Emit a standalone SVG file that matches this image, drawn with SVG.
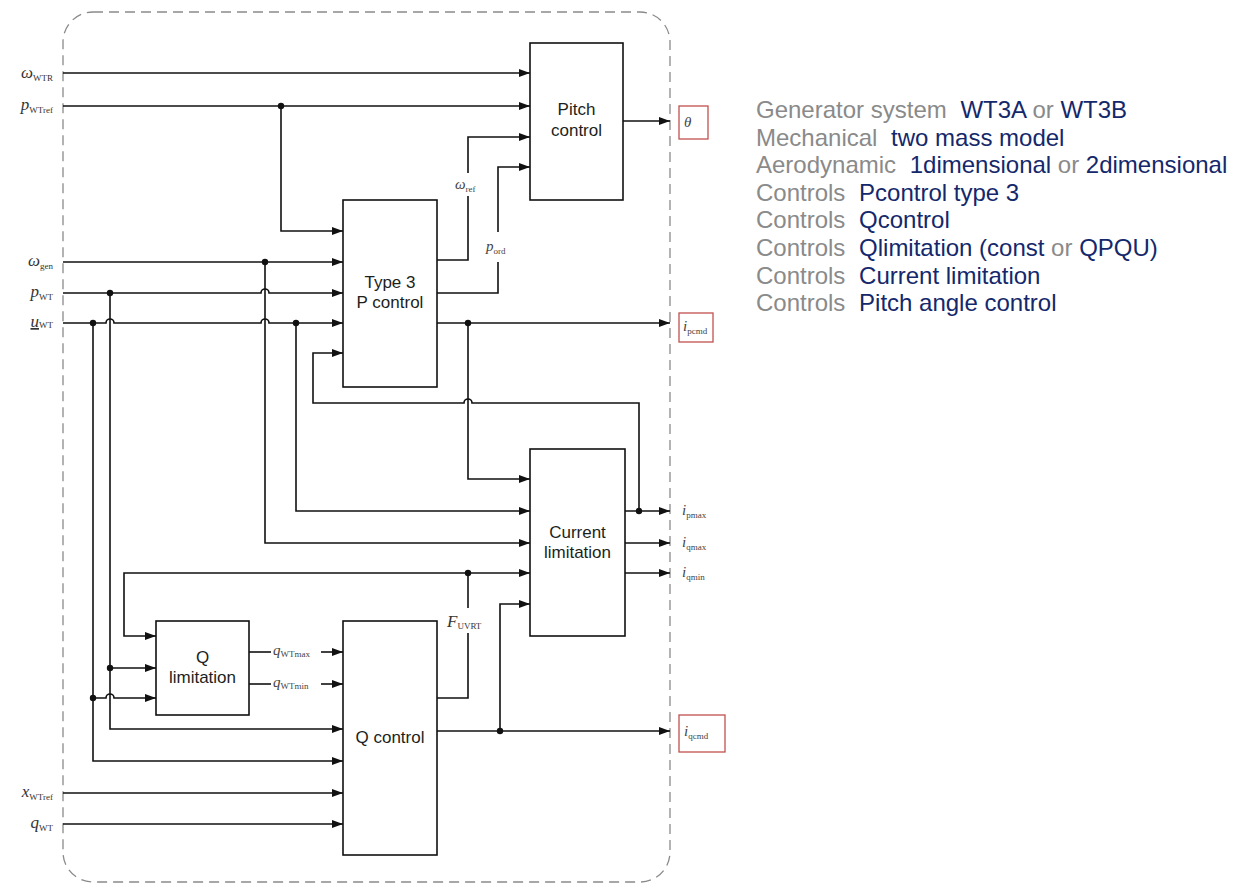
<svg xmlns="http://www.w3.org/2000/svg" width="1239" height="886" viewBox="0 0 1239 886">
<style>
.box{fill:#fff;stroke:#111;stroke-width:1.6}
.bt{font-family:"Liberation Sans",Arial,sans-serif;font-size:17px;fill:#1c1f1c;text-anchor:middle}
.ln{fill:none;stroke:#111;stroke-width:1.6}
.ar{marker-end:url(#arr)}
.dot{fill:#111}
.var{font-family:"Liberation Serif","Times New Roman",serif;font-size:17px;font-style:italic;fill:#333}
.sub{font-size:9px;font-style:normal}
.lbl{font-family:"Liberation Serif","Times New Roman",serif;font-size:15px;font-style:italic;fill:#444}
.out{fill:none;stroke:#c0504d;stroke-width:1.3}
.lg{font-family:"Liberation Sans",Arial,sans-serif;font-size:24px;fill:#8a8a8a}
.nv{fill:#14286b}
</style>
<defs>
<marker id="arr" markerUnits="userSpaceOnUse" markerWidth="12" markerHeight="8" refX="11" refY="4" orient="auto">
<path d="M0,0 L11,4 L0,8 z" fill="#111"/>
</marker>
</defs>
<rect width="1239" height="886" fill="#fff"/>
<g id="boundary">
<path d="M93,12 H640 A30,30 0 0 1 670,42 V852 A30,30 0 0 1 640,882 H93 A30,30 0 0 1 63,852 V42 A30,30 0 0 1 93,12 Z" fill="none" stroke="#8a8a8a" stroke-width="1.3" stroke-dasharray="10,6"/>
</g>
<g id="connectors">
<path class="ln ar" d="M63,73 H530"/>
<path class="ln ar" d="M63,106 H530"/>
<path class="ln ar" d="M281,106 V231 H343"/>
<path class="ln" d="M437,260 H468 V196"/>
<path class="ln ar" d="M468,173 V137 H530"/>
<path class="ln" d="M437,293 H498 V262"/>
<path class="ln ar" d="M498,232 V167 H530"/>
<path class="ln ar" d="M623,121 H670"/>
<path class="ln ar" d="M63,262 H343"/>
<path class="ln ar" d="M265,262 V543 H530"/>
<path class="ln ar" d="M63,293 H261 A4,4 0 0 1 269,293 H343"/>
<path class="ln ar" d="M110,293 V729 H343"/>
<path class="ln ar" d="M63,323 H106 A4,4 0 0 1 114,323 H261 A4,4 0 0 1 269,323 H343"/>
<path class="ln ar" d="M93,323 V761 H343"/>
<path class="ln ar" d="M93,698 H106 A4,4 0 0 1 114,698 H156"/>
<path class="ln ar" d="M296,323 V511 H530"/>
<path class="ln ar" d="M110,668 H156"/>
<path class="ln ar" d="M437,323 H670"/>
<path class="ln ar" d="M468,323 V479 H530"/>
<path class="ln ar" d="M639,511 V403 H472 A4,4 0 0 0 464,403 H313 V353 H343"/>
<path class="ln ar" d="M625,511 H670"/>
<path class="ln ar" d="M625,543 H670"/>
<path class="ln ar" d="M625,573 H670"/>
<path class="ln" d="M437,698 H468 V633"/>
<path class="ln" d="M468,608 V573"/>
<path class="ln ar" d="M468,573 H124 V636 H156"/>
<path class="ln ar" d="M468,573 H530"/>
<path class="ln" d="M249,652 H271"/>
<path class="ln ar" d="M321,652 H343"/>
<path class="ln" d="M249,684 H271"/>
<path class="ln ar" d="M321,684 H343"/>
<path class="ln ar" d="M437,731 H670"/>
<path class="ln ar" d="M500,731 V604 H530"/>
<path class="ln ar" d="M63,793 H343"/>
<path class="ln ar" d="M63,824 H343"/>
<circle class="dot" cx="281" cy="106" r="3.2"/>
<circle class="dot" cx="265" cy="262" r="3.2"/>
<circle class="dot" cx="110" cy="293" r="3.2"/>
<circle class="dot" cx="93" cy="323" r="3.2"/>
<circle class="dot" cx="296" cy="323" r="3.2"/>
<circle class="dot" cx="468" cy="323" r="3.2"/>
<circle class="dot" cx="639" cy="511" r="3.2"/>
<circle class="dot" cx="468" cy="573" r="3.2"/>
<circle class="dot" cx="110" cy="668" r="3.2"/>
<circle class="dot" cx="93" cy="698" r="3.2"/>
<circle class="dot" cx="500" cy="731" r="3.2"/>
<text class="lbl" x="455" y="189">ω<tspan class="sub" font-size="8" dy="3">ref</tspan></text>
<text class="lbl" x="486" y="251">p<tspan class="sub" font-size="8" dy="3">ord</tspan></text>
<text class="var" x="447" y="627">F<tspan class="sub" dy="2">UVRT</tspan></text>
<text class="lbl" x="273" y="655">q<tspan class="sub" font-size="8" dy="2">WTmax</tspan></text>
<text class="lbl" x="273" y="687">q<tspan class="sub" font-size="8" dy="2">WTmin</tspan></text>
</g>
<g id="pitch-control">
<rect class="box" x="530" y="43" width="93" height="157"/>
<text class="bt" x="576.5" y="115">Pitch</text>
<text class="bt" x="576.5" y="136">control</text>
</g>
<g id="p-control">
<rect class="box" x="343" y="200" width="94" height="187"/>
<text class="bt" x="390" y="288">Type 3</text>
<text class="bt" x="390" y="308">P control</text>
</g>
<g id="current-limitation">
<rect class="box" x="530" y="449" width="95" height="187"/>
<text class="bt" x="577.5" y="538">Current</text>
<text class="bt" x="577.5" y="558">limitation</text>
</g>
<g id="q-limitation">
<rect class="box" x="156" y="621" width="93" height="94"/>
<text class="bt" x="202.5" y="663">Q</text>
<text class="bt" x="202.5" y="683">limitation</text>
</g>
<g id="q-control">
<rect class="box" x="343" y="621" width="94" height="234"/>
<text class="bt" x="390" y="743">Q control</text>
</g>
<g id="inputs">
<text class="var" x="53" y="78" text-anchor="end">ω<tspan class="sub" dy="3">WTR</tspan></text>
<text class="var" x="53" y="110" text-anchor="end">p<tspan class="sub" dy="3">WTref</tspan></text>
<text class="var" x="53" y="266" text-anchor="end">ω<tspan class="sub" dy="3">gen</tspan></text>
<text class="var" x="53" y="297" text-anchor="end">p<tspan class="sub" dy="3">WT</tspan></text>
<text class="var" x="53" y="327" text-anchor="end"><tspan text-decoration="underline">u</tspan><tspan class="sub" dy="1">WT</tspan></text>
<text class="var" x="53" y="797" text-anchor="end">x<tspan class="sub" dy="3">WTref</tspan></text>
<text class="var" x="53" y="828" text-anchor="end">q<tspan class="sub" dy="3">WT</tspan></text>
</g>
<g id="outputs">
<g id="out-theta">
<rect class="out" x="679" y="106" width="29" height="33"/>
<text class="lbl" x="684" y="127">θ</text>
</g>
<g id="out-ipcmd">
<rect class="out" x="679" y="313" width="34" height="29"/>
<text class="lbl" x="683" y="331">i<tspan class="sub" font-size="8" dy="3">pcmd</tspan></text>
</g>
<text class="lbl" x="682" y="515">i<tspan class="sub" font-size="8" dy="3">pmax</tspan></text>
<text class="lbl" x="682" y="547">i<tspan class="sub" font-size="8" dy="3">qmax</tspan></text>
<text class="lbl" x="682" y="577">i<tspan class="sub" font-size="8" dy="3">qmin</tspan></text>
<g id="out-iqcmd">
<rect class="out" x="679" y="715" width="46" height="37"/>
<text class="lbl" x="684" y="736">i<tspan class="sub" font-size="8" dy="3">qcmd</tspan></text>
</g>
</g>
<g id="legend">
<text class="lg" x="756" y="118">Generator system <tspan class="nv" dx="7">WT3A</tspan> or <tspan class="nv">WT3B</tspan></text>
<text class="lg" x="756" y="146">Mechanical <tspan class="nv" dx="7">two mass model</tspan></text>
<text class="lg" x="756" y="173">Aerodynamic <tspan class="nv" dx="7">1dimensional</tspan> or <tspan class="nv">2dimensional</tspan></text>
<text class="lg" x="756" y="201">Controls <tspan class="nv" dx="7">Pcontrol type 3</tspan></text>
<text class="lg" x="756" y="228">Controls <tspan class="nv" dx="7">Qcontrol</tspan></text>
<text class="lg" x="756" y="256">Controls <tspan class="nv" dx="7">Qlimitation (const</tspan> or <tspan class="nv">QPQU)</tspan></text>
<text class="lg" x="756" y="284">Controls <tspan class="nv" dx="7">Current limitation</tspan></text>
<text class="lg" x="756" y="311">Controls <tspan class="nv" dx="7">Pitch angle control</tspan></text>
</g>
</svg>
